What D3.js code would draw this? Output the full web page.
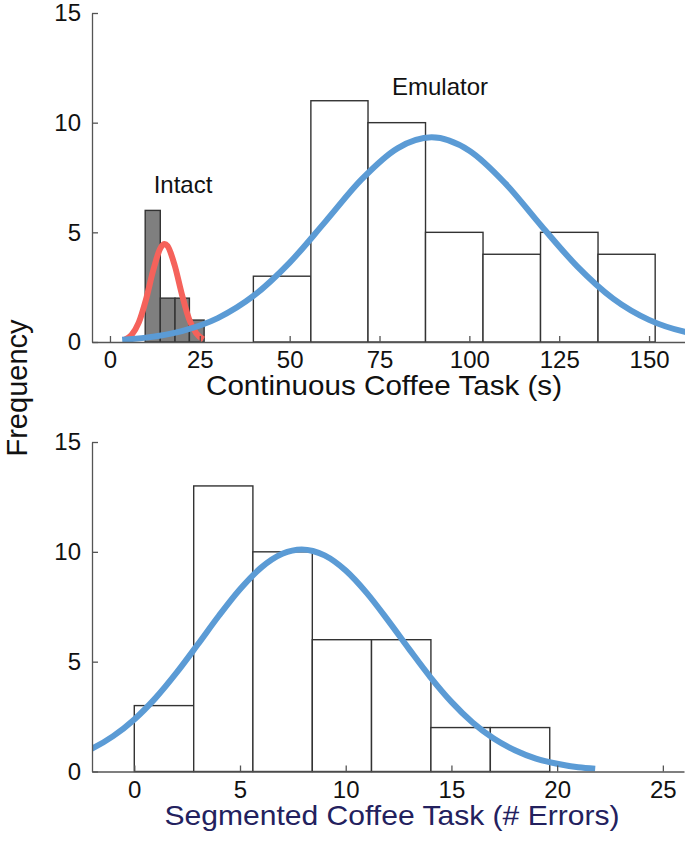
<!DOCTYPE html>
<html><head><meta charset="utf-8">
<script src="https://cdn.jsdelivr.net/npm/d3@7/dist/d3.min.js"></script>
<style>
html,body{margin:0;padding:0;background:#fff;}
svg{display:block;font-family:"Liberation Sans",Arial,sans-serif;}
</style></head>
<body>
<script>
// ---- Data ----
// Top panel: Continuous Coffee Task (s)
const emulatorEdges = [39.9, 55.9, 71.8, 87.8, 103.8, 119.8, 135.8, 151.7];
const emulatorCounts = [3, 11, 10, 5, 4, 5, 4];
const intactEdges = [9.8, 14.0, 18.1, 22.1, 26.2];
const intactCounts = [6, 2, 2, 1];
// fitted curves, sampled points [x, frequency]
const emulatorFitX = [3.4, 10, 20, 30, 40, 50, 60, 70, 80, 89.5, 100, 110, 120, 130, 140, 150, 160, 165];
const emulatorFitY = [0.10, 0.20, 0.50, 1.09, 2.11, 3.62, 5.50, 7.41, 8.83, 9.33, 8.72, 7.23, 5.30, 3.45, 1.98, 1.01, 0.46, 0.30];
const intactFitX = [4, 6, 8, 10, 12, 14, 15.2, 16, 18, 20, 22, 24, 26];
const intactFitY = [0.09, 0.32, 0.88, 1.92, 3.25, 4.27, 4.47, 4.38, 3.50, 2.18, 1.05, 0.40, 0.12];
const topXTicks = [0, 25, 50, 75, 100, 125, 150];
// Bottom panel: Segmented Coffee Task (# Errors)
const segEdges = [0, 2.81, 5.61, 8.42, 11.22, 14.03, 16.84, 19.65];
const segCounts = [3, 13, 10, 6, 6, 2, 2];
const segFitX = [-3, -2, -1, 0, 1, 2, 3, 4, 5, 6, 7, 7.92, 9, 10, 11, 12, 13, 14, 15, 16, 17, 18, 19, 20, 21, 21.8];
const segFitY = [0.62, 1.04, 1.61, 2.37, 3.34, 4.50, 5.78, 7.09, 8.30, 9.28, 9.91, 10.11, 9.84, 9.15, 8.12, 6.88, 5.57, 4.30, 3.17, 2.23, 1.50, 0.97, 0.59, 0.35, 0.19, 0.12];
const bottomXTicks = [0, 5, 10, 15, 20, 25];
const yTicks = [0, 5, 10, 15];

const W = 685, H = 843;
const svg = d3.select("body").append("svg").attr("width", W).attr("height", H);

const axisColor = "#555";
const blue = "#5B9BD5", red = "#F5625B";

function panel(cfg) {
  const x = d3.scaleLinear().domain(cfg.xDomain).range([92, cfg.xRight]);
  const y = d3.scaleLinear().domain([0, 15]).range([cfg.y0, cfg.y15]);
  const g = svg.append("g");
  const clipId = "clip" + cfg.id;
  svg.append("clipPath").attr("id", clipId).append("rect")
    .attr("x", 92).attr("y", cfg.y15 - 5).attr("width", cfg.xRight - 92).attr("height", cfg.y0 - cfg.y15 + 5);

  cfg.hists.forEach(h => {
    const bins = h.counts.map((c, i) => ({x0: h.edges[i], x1: h.edges[i + 1], c}));
    g.append("g").selectAll("rect").data(bins).join("rect")
      .attr("x", d => x(d.x0)).attr("width", d => x(d.x1) - x(d.x0))
      .attr("y", d => y(d.c)).attr("height", d => y(0) - y(d.c))
      .attr("fill", h.fill).attr("stroke", "#333").attr("stroke-width", 1.4);
  });

  const line = d3.line().x(d => x(d[0])).y(d => y(d[1])).curve(d3.curveMonotoneX);
  cfg.fits.forEach(f => {
    const pts = f.xs.map((v, i) => [v, f.ys[i]]);
    g.append("path").datum(pts).attr("d", line)
      .attr("fill", "none").attr("stroke", f.color).attr("stroke-width", 6)
      .attr("stroke-linecap", "butt").attr("clip-path", `url(#${clipId})`);
  });

  const xa = g.append("g").attr("transform", `translate(0,${cfg.y0})`)
    .call(d3.axisBottom(x).tickValues(cfg.xTicks).tickSizeInner(-6).tickSizeOuter(0).tickPadding(9));
  const ya = g.append("g").attr("transform", `translate(92,0)`)
    .call(d3.axisLeft(y).tickValues(yTicks).tickSizeInner(-6).tickSizeOuter(0).tickPadding(11));
  [xa, ya].forEach(a => {
    a.select(".domain").attr("stroke", axisColor).attr("stroke-width", 1.3);
    a.selectAll(".tick line").attr("stroke", axisColor).attr("stroke-width", 1.3);
    a.selectAll(".tick text").attr("fill", "#111").style("font-size", "24px")
      .style("font-family", '"Liberation Sans", Arial, sans-serif');
  });
  g.append("text").attr("x", cfg.titleX).attr("y", cfg.titleY).attr("text-anchor", "middle")
    .attr("fill", cfg.titleColor).style("font-size", "28px")
    .attr("textLength", cfg.titleLen).attr("lengthAdjust", "spacingAndGlyphs").text(cfg.title);
  (cfg.labels || []).forEach(l => {
    g.append("text").attr("x", l.x).attr("y", l.y).attr("text-anchor", "middle")
      .attr("fill", "#111").style("font-size", "24px").text(l.text);
  });
}

panel({
  id: 1, xDomain: [-5, 160], xRight: 685, y0: 342, y15: 13,
  xTicks: topXTicks,
  hists: [
    {edges: intactEdges, counts: intactCounts, fill: "#7f7f7f"},
    {edges: emulatorEdges, counts: emulatorCounts, fill: "#fff"}
  ],
  fits: [
    {xs: intactFitX, ys: intactFitY, color: red},
    {xs: emulatorFitX, ys: emulatorFitY, color: blue}
  ],
  title: "Continuous Coffee Task (s)", titleX: 384, titleY: 395, titleLen: 356, titleColor: "#111",
  labels: [{text: "Emulator", x: 440, y: 95}, {text: "Intact", x: 183, y: 193}]
});

panel({
  id: 2, xDomain: [-2, 26], xRight: 684, y0: 771.5, y15: 442,
  xTicks: bottomXTicks,
  hists: [{edges: segEdges, counts: segCounts, fill: "#fff"}],
  fits: [{xs: segFitX, ys: segFitY, color: blue}],
  title: "Segmented Coffee Task (# Errors)", titleX: 392, titleY: 825, titleLen: 455, titleColor: "#23215E"
});

svg.append("text").attr("transform", "translate(27,388) rotate(-90)")
  .attr("text-anchor", "middle").attr("fill", "#111").style("font-size", "29px").text("Frequency");
</script>
</body></html>
